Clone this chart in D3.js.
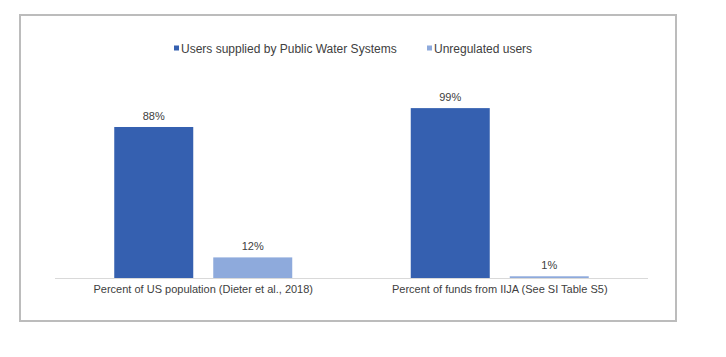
<!DOCTYPE html>
<html><head><meta charset="utf-8">
<script src="https://cdn.jsdelivr.net/npm/d3@7"></script>
<style>body{margin:0;background:#fff}svg{display:block}text{font-family:"Liberation Sans",Arial,sans-serif;fill:#404040}</style>
</head><body>
<script>
const categories = ["Percent of US population (Dieter et al., 2018)", "Percent of funds from IIJA (See SI Table S5)"];
const seriesNames = ["Users supplied by Public Water Systems", "Unregulated users"];
const publicWater = [88, 99];
const unregulated = [12, 1];
const colors = ["#3560b0", "#8eaadc"];

const W = 726, H = 357;
const svg = d3.select("body").append("svg").attr("width", W).attr("height", H);
svg.append("rect").attr("x", 20).attr("y", 15).attr("width", 656).attr("height", 306)
  .attr("fill", "#fff").attr("stroke", "#bcbcbc").attr("stroke-width", 2);

const plotLeft = 55, plotRight = 648, plotBase = 278, plotTop = 106.4;
const x = d3.scaleBand().domain(categories).range([plotLeft, plotRight]).paddingInner(0).paddingOuter(0);
const y = d3.scaleLinear().domain([0, 100]).range([plotBase, plotTop]);
const barW = 79, gap = 20;
const series = [publicWater, unregulated];

const data = [];
categories.forEach((c, i) => series.forEach((s, j) => data.push({c, j, v: s[i]})));

const cx = c => x(c) + x.bandwidth() / 2;
const bx = d => cx(d.c) + (d.j === 0 ? -(gap / 2 + barW) : gap / 2);

svg.selectAll("rect.bar").data(data).enter().append("rect").attr("class", "bar")
  .attr("x", bx).attr("width", barW)
  .attr("y", d => y(d.v)).attr("height", d => plotBase - y(d.v))
  .attr("fill", d => colors[d.j]);

svg.selectAll("text.val").data(data).enter().append("text").attr("class", "val")
  .attr("x", d => bx(d) + barW / 2).attr("y", d => y(d.v) - 7)
  .attr("text-anchor", "middle").attr("font-size", 11).text(d => d.v + "%");

svg.append("line").attr("x1", plotLeft).attr("x2", plotRight).attr("y1", plotBase + 0.5).attr("y2", plotBase + 0.5)
  .attr("stroke", "#d9d9d9").attr("stroke-width", 1);

const xAxis = svg.append("g").attr("transform", `translate(0,${plotBase})`)
  .call(d3.axisBottom(x).tickSize(0).tickPadding(7));
xAxis.select(".domain").remove();
xAxis.selectAll("text").attr("font-size", 11).style("font-family", '"Liberation Sans",Arial,sans-serif').attr("fill", "#404040");

// legend
const legend = svg.append("g");
const lx = [174, 427];
seriesNames.forEach((n, i) => {
  legend.append("rect").attr("x", lx[i]).attr("y", 45.5).attr("width", 5).attr("height", 5).attr("fill", colors[i]);
  legend.append("text").attr("x", lx[i] + 7).attr("y", 52.5).attr("font-size", 12).text(n);
});
</script>
</body></html>
